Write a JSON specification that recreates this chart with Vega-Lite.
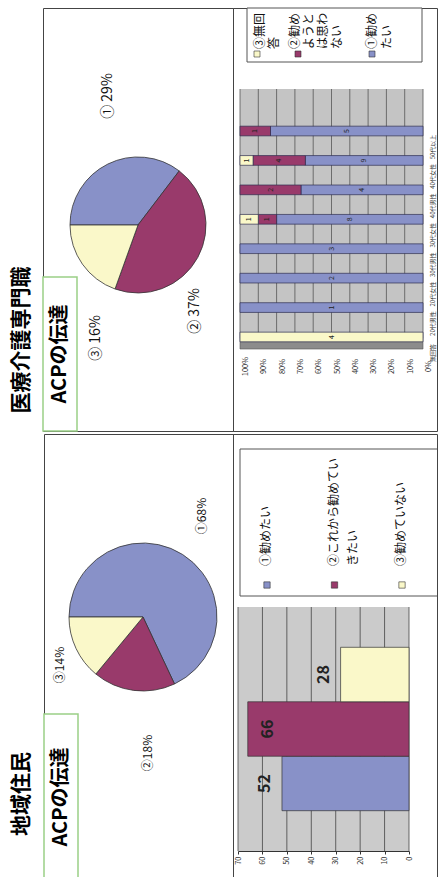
{
  "$schema": "https://vega.github.io/schema/vega-lite/v6.json",
  "padding": {"top": 7, "left": 0, "right": 0, "bottom": 0},
  "spacing": 0,
  "config": {
    "view": {"stroke": null},
    "font": "Noto Sans CJK JP",
    "text": {"font": "Noto Sans CJK JP", "color": "#111"},
    "axis": {"labelFont": "Noto Sans CJK JP"}
  },
  "datasets": {
    "pro_pie": [
      {"cat": "①", "v": 29, "label": "① 29%"},
      {"cat": "②", "v": 37, "label": "② 37%"},
      {"cat": "③", "v": 16, "label": "③ 16%"}
    ],
    "res_pie": [
      {"cat": "①", "v": 68, "label": "①68%"},
      {"cat": "②", "v": 18, "label": "②18%"},
      {"cat": "③", "v": 14, "label": "③14%"}
    ],
    "pro_bar": [
      {"g": "無回答", "cat": "③", "n": 4},
      {"g": "20代男性", "cat": "①", "n": 1},
      {"g": "20代女性", "cat": "①", "n": 2},
      {"g": "30代男性", "cat": "①", "n": 3},
      {"g": "30代女性", "cat": "①", "n": 8},
      {"g": "30代女性", "cat": "②", "n": 1},
      {"g": "30代女性", "cat": "③", "n": 1},
      {"g": "40代男性", "cat": "①", "n": 4},
      {"g": "40代男性", "cat": "②", "n": 2},
      {"g": "40代女性", "cat": "①", "n": 9},
      {"g": "40代女性", "cat": "②", "n": 4},
      {"g": "40代女性", "cat": "③", "n": 1},
      {"g": "50代以上", "cat": "①", "n": 5},
      {"g": "50代以上", "cat": "②", "n": 1}
    ],
    "res_bar": [
      {"cat": "①", "n": 52},
      {"cat": "②", "n": 66},
      {"cat": "③", "n": 28}
    ],
    "pro_legend": [
      {"cat": "③", "lines": "③無回\n答"},
      {"cat": "②", "lines": "②勧め\nようと\nは思わ\nない"},
      {"cat": "①", "lines": "①勧め\nたい"}
    ],
    "res_legend": [
      {"cat": "①", "lines": "①勧めたい"},
      {"cat": "②", "lines": "②これから勧めてい\nきたい"},
      {"cat": "③", "lines": "③勧めていない"}
    ],
    "pct_ticks": [{"t": 0}, {"t": 0.1}, {"t": 0.2}, {"t": 0.3}, {"t": 0.4}, {"t": 0.5}, {"t": 0.6}, {"t": 0.7}, {"t": 0.8}, {"t": 0.9}, {"t": 1}],
    "cnt_ticks": [{"t": 0}, {"t": 10}, {"t": 20}, {"t": 30}, {"t": 40}, {"t": 50}, {"t": 60}, {"t": 70}]
  },
  "vconcat": [
    {
      "spacing": 0,
      "bounds": "flush",
      "hconcat": [
        {
          "width": 43, "height": 423,
          "data": {"values": [{"t": "医療介護専門職"}]},
          "mark": {"type": "text", "angle": 270, "fontSize": 21, "fontWeight": "bold", "align": "center", "baseline": "middle", "yOffset": 120.5, "color": "#000"},
          "encoding": {"text": {"field": "t"}}
        },
        {
          "width": 190, "height": 423,
          "view": {"stroke": "#444", "strokeWidth": 1},
          "layer": [
            {
              "data": {"name": "pro_pie"},
              "mark": {"type": "arc", "outerRadius": 68, "stroke": "#333", "strokeWidth": 0.8, "yOffset": 5.5},
              "encoding": {
                "theta": {"field": "v", "type": "quantitative", "stack": true, "scale": {"range": [4.71238898, 10.99557429]}},
                "color": {"field": "cat", "type": "nominal", "legend": null, "scale": {"domain": ["①", "②", "③"], "range": ["#8891C8", "#993A6B", "#FAF8C9"]}},
                "order": {"field": "cat"}
              }
            },
            {
              "data": {"name": "pro_pie"},
              "transform": [{"filter": "datum.cat === '①'"}],
              "mark": {"type": "text", "angle": 270, "fontSize": 14, "align": "center", "baseline": "middle", "xOffset": -30, "yOffset": -123.5},
              "encoding": {"text": {"field": "label"}}
            },
            {
              "data": {"name": "pro_pie"},
              "transform": [{"filter": "datum.cat === '②'"}],
              "mark": {"type": "text", "angle": 270, "fontSize": 14, "align": "center", "baseline": "middle", "xOffset": 57, "yOffset": 91.5},
              "encoding": {"text": {"field": "label"}}
            },
            {
              "data": {"name": "pro_pie"},
              "transform": [{"filter": "datum.cat === '③'"}],
              "mark": {"type": "text", "angle": 270, "fontSize": 14, "align": "center", "baseline": "middle", "xOffset": -42, "yOffset": 118.5},
              "encoding": {"text": {"field": "label"}}
            },
            {
              "data": {"values": [{"box": "ACPの伝達"}]},
              "encoding": {
                "x": {"field": "box", "type": "nominal", "axis": null, "scale": {"range": [0, 34], "paddingInner": 0, "paddingOuter": 0}},
                "y": {"field": "box", "type": "nominal", "axis": null, "scale": {"range": [269, 423], "paddingInner": 0, "paddingOuter": 0}}
              },
              "layer": [
                {"mark": {"type": "rect", "fill": "#ffffff", "stroke": "#9BCF86", "strokeWidth": 1.5}},
                {"mark": {"type": "text", "angle": 270, "fontSize": 20, "fontWeight": "bold", "align": "center", "baseline": "middle", "color": "#000"}, "encoding": {"text": {"field": "box"}}}
              ]
            }
          ]
        },
        {
          "width": 204, "height": 423,
          "view": {"stroke": "#444", "strokeWidth": 1},
          "resolve": {"scale": {"x": "independent", "y": "independent"}},
          "layer": [
            {
              "data": {"values": [{"b": "legend"}]},
              "mark": {"type": "rect", "fill": "#ffffff", "stroke": "#555", "strokeWidth": 1},
              "encoding": {
                "x": {"field": "b", "type": "nominal", "axis": null, "scale": {"range": [14, 189], "paddingInner": 0, "paddingOuter": 0}},
                "y": {"field": "b", "type": "nominal", "axis": null, "scale": {"range": [0, 54], "paddingInner": 0, "paddingOuter": 0}}
              }
            },
            {
              "data": {"name": "pro_legend"},
              "transform": [{"filter": "datum.cat === '③'"}],
              "layer": [
                {"mark": {"type": "square", "size": 36, "opacity": 1, "stroke": "#333", "strokeWidth": 0.6, "xOffset": -78, "yOffset": -165.5},
                 "encoding": {"color": {"field": "cat", "type": "nominal", "legend": null, "scale": {"domain": ["①", "②", "③"], "range": ["#8891C8", "#993A6B", "#FAF8C9"]}}}},
                {"mark": {"type": "text", "angle": 270, "fontSize": 12, "align": "left", "baseline": "top", "lineBreak": "\n", "lineHeight": 13.5, "xOffset": -80, "yOffset": -170.5},
                 "encoding": {"text": {"field": "lines"}}}
              ]
            },
            {
              "data": {"name": "pro_legend"},
              "transform": [{"filter": "datum.cat === '②'"}],
              "layer": [
                {"mark": {"type": "square", "size": 36, "opacity": 1, "stroke": "#333", "strokeWidth": 0.6, "xOffset": -37, "yOffset": -165.5},
                 "encoding": {"color": {"field": "cat", "type": "nominal", "legend": null, "scale": {"domain": ["①", "②", "③"], "range": ["#8891C8", "#993A6B", "#FAF8C9"]}}}},
                {"mark": {"type": "text", "angle": 270, "fontSize": 12, "align": "left", "baseline": "top", "lineBreak": "\n", "lineHeight": 14, "xOffset": -45, "yOffset": -170.5},
                 "encoding": {"text": {"field": "lines"}}}
              ]
            },
            {
              "data": {"name": "pro_legend"},
              "transform": [{"filter": "datum.cat === '①'"}],
              "layer": [
                {"mark": {"type": "square", "size": 36, "opacity": 1, "stroke": "#333", "strokeWidth": 0.6, "xOffset": 37, "yOffset": -165.5},
                 "encoding": {"color": {"field": "cat", "type": "nominal", "legend": null, "scale": {"domain": ["①", "②", "③"], "range": ["#8891C8", "#993A6B", "#FAF8C9"]}}}},
                {"mark": {"type": "text", "angle": 270, "fontSize": 12, "align": "left", "baseline": "top", "lineBreak": "\n", "lineHeight": 15, "xOffset": 32, "yOffset": -170.5},
                 "encoding": {"text": {"field": "lines"}}}
              ]
            },
            {
              "resolve": {"scale": {"y": "independent"}},
              "layer": [
                {
                  "layer": [
                    {
                      "data": {"values": [{"b": "plot"}]},
                      "mark": {"type": "rect", "fill": "#C4C4C4"},
                      "encoding": {
                        "x": {"datum": 0, "type": "quantitative",
                              "axis": {"orient": "bottom", "offset": -65, "values": [0, 0.1, 0.2, 0.3, 0.4, 0.5, 0.6, 0.7, 0.8, 0.9, 1], "format": ".0%",
                                       "labelAngle": 270, "labelAlign": "center", "labelBaseline": "middle", "labelPadding": 0, "ticks": false, "tickSize": 0,
                                       "domain": false, "grid": false, "title": null, "labelFontSize": 7.5, "labelColor": "#333", "labelOffset": 5.5, "labelOverlap": false}},
                        "x2": {"datum": 1},
                        "y": {"datum": 0.04, "type": "quantitative", "axis": null, "scale": {"domain": [0, 1], "range": [341, 81]}},
                        "y2": {"datum": 1}
                      }
                    },
                    {
                      "data": {"values": [{"b": "floor"}]},
                      "mark": {"type": "rect", "fill": "#8C8C8C", "stroke": "#555", "strokeWidth": 0.6},
                      "encoding": {
                        "x": {"datum": 0, "type": "quantitative",
                              "axis": {"orient": "bottom", "offset": -65, "values": [0, 0.1, 0.2, 0.3, 0.4, 0.5, 0.6, 0.7, 0.8, 0.9, 1], "format": ".0%",
                                       "labelAngle": 270, "labelAlign": "center", "labelBaseline": "middle", "labelPadding": 0, "ticks": false, "tickSize": 0,
                                       "domain": false, "grid": false, "title": null, "labelFontSize": 7.5, "labelColor": "#333", "labelOffset": 5.5, "labelOverlap": false}},
                        "x2": {"datum": 1},
                        "y": {"datum": 0, "type": "quantitative", "axis": null},
                        "y2": {"datum": 0.04}
                      }
                    },
                    {
                      "data": {"name": "pct_ticks"},
                      "mark": {"type": "rule", "color": "#555", "strokeWidth": 0.8},
                      "encoding": {
                        "x": {"field": "t", "type": "quantitative",
                              "axis": {"orient": "bottom", "offset": -65, "values": [0, 0.1, 0.2, 0.3, 0.4, 0.5, 0.6, 0.7, 0.8, 0.9, 1], "format": ".0%",
                                       "labelAngle": 270, "labelAlign": "center", "labelBaseline": "middle", "labelPadding": 0, "ticks": false, "tickSize": 0,
                                       "domain": false, "grid": false, "title": null, "labelFontSize": 7.5, "labelColor": "#333", "labelOffset": 5.5, "labelOverlap": false}},
                        "y": {"datum": 0.04, "type": "quantitative", "axis": null},
                        "y2": {"datum": 1}
                      }
                    }
                  ]
                },
                {
                  "data": {"name": "pro_bar"},
                  "encoding": {
                    "x": {"field": "n", "type": "quantitative", "stack": "normalize",
                          "scale": {"domain": [0, 1], "range": [190, 7]},
                          "axis": {"orient": "bottom", "offset": -65, "values": [0, 0.1, 0.2, 0.3, 0.4, 0.5, 0.6, 0.7, 0.8, 0.9, 1], "format": ".0%",
                                   "labelAngle": 270, "labelAlign": "center", "labelBaseline": "middle", "labelPadding": 0, "ticks": false, "tickSize": 0,
                                   "domain": false, "grid": false, "title": null, "labelFontSize": 7.5, "labelColor": "#333", "labelOffset": 5.5, "labelOverlap": false}},
                    "y": {"field": "g", "type": "nominal",
                          "scale": {"domain": ["無回答", "20代男性", "20代女性", "30代男性", "30代女性", "40代男性", "40代女性", "50代以上"], "range": [343.7, 108.3], "paddingInner": 0, "paddingOuter": 0},
                          "axis": {"orient": "right", "offset": -5, "labelAngle": 270, "labelAlign": "center", "labelBaseline": "middle", "labelPadding": 0, "ticks": false, "tickSize": 0,
                                   "labelOffset": 16, "domain": false, "grid": false, "title": null, "labelFontSize": 6, "labelColor": "#333", "labelOverlap": false, "labelLimit": 0}}
                  },
                  "layer": [
                    {
                      "mark": {"type": "bar", "height": {"band": 0.33}, "stroke": "#2E2E50", "strokeWidth": 0.7},
                      "encoding": {
                        "color": {"field": "cat", "type": "nominal", "legend": null, "scale": {"domain": ["①", "②", "③"], "range": ["#8891C8", "#993A6B", "#FAF8C9"]}},
                        "order": {"field": "cat"}
                      }
                    },
                    {
                      "mark": {"type": "text", "angle": 270, "fontSize": 7, "align": "center", "baseline": "middle", "color": "#222"},
                      "encoding": {
                        "x": {"field": "n", "type": "quantitative", "stack": "normalize", "bandPosition": 0.5},
                        "detail": {"field": "cat"},
                        "order": {"field": "cat"},
                        "text": {"field": "n"}
                      }
                    }
                  ]
                }
              ]
            }
          ]
        }
      ]
    },
    {
      "spacing": 0,
      "bounds": "flush",
      "hconcat": [
        {
          "width": 44, "height": 446,
          "data": {"values": [{"t": "地域住民"}]},
          "mark": {"type": "text", "angle": 270, "fontSize": 21, "fontWeight": "bold", "align": "center", "baseline": "middle", "yOffset": 137, "color": "#000"},
          "encoding": {"text": {"field": "t"}}
        },
        {
          "width": 189, "height": 446,
          "view": {"stroke": "#444", "strokeWidth": 1},
          "layer": [
            {
              "data": {"name": "res_pie"},
              "mark": {"type": "arc", "outerRadius": 74, "stroke": "#333", "strokeWidth": 0.8, "xOffset": 4.5, "yOffset": -40},
              "encoding": {
                "theta": {"field": "v", "type": "quantitative", "stack": true, "scale": {"range": [4.71238898, 10.99557429]}},
                "color": {"field": "cat", "type": "nominal", "legend": null, "scale": {"domain": ["①", "②", "③"], "range": ["#8891C8", "#993A6B", "#FAF8C9"]}},
                "order": {"field": "cat"}
              }
            },
            {
              "data": {"name": "res_pie"},
              "transform": [{"filter": "datum.cat === '①'"}],
              "mark": {"type": "text", "angle": 270, "fontSize": 12, "align": "center", "baseline": "middle", "xOffset": 63.5, "yOffset": -141},
              "encoding": {"text": {"field": "label"}}
            },
            {
              "data": {"name": "res_pie"},
              "transform": [{"filter": "datum.cat === '②'"}],
              "mark": {"type": "text", "angle": 270, "fontSize": 12, "align": "center", "baseline": "middle", "xOffset": 9.5, "yOffset": 96},
              "encoding": {"text": {"field": "label"}}
            },
            {
              "data": {"name": "res_pie"},
              "transform": [{"filter": "datum.cat === '③'"}],
              "mark": {"type": "text", "angle": 270, "fontSize": 12, "align": "center", "baseline": "middle", "xOffset": -78.5, "yOffset": 8},
              "encoding": {"text": {"field": "label"}}
            },
            {
              "data": {"values": [{"box": "ACPの伝達"}]},
              "encoding": {
                "x": {"field": "box", "type": "nominal", "axis": null, "scale": {"range": [0, 34], "paddingInner": 0, "paddingOuter": 0}},
                "y": {"field": "box", "type": "nominal", "axis": null, "scale": {"range": [280, 446], "paddingInner": 0, "paddingOuter": 0}}
              },
              "layer": [
                {"mark": {"type": "rect", "fill": "#ffffff", "stroke": "#9BCF86", "strokeWidth": 1.5}},
                {"mark": {"type": "text", "angle": 270, "fontSize": 20, "fontWeight": "bold", "align": "center", "baseline": "middle", "color": "#000"}, "encoding": {"text": {"field": "box"}}}
              ]
            }
          ]
        },
        {
          "width": 204, "height": 446,
          "view": {"stroke": "#444", "strokeWidth": 1},
          "resolve": {"scale": {"x": "independent", "y": "independent"}},
          "layer": [
            {
              "data": {"values": [{"b": "legend"}]},
              "mark": {"type": "rect", "fill": "#ffffff", "stroke": "#555", "strokeWidth": 1, "clip": true},
              "encoding": {
                "x": {"field": "b", "type": "nominal", "axis": null, "scale": {"range": [7, 215], "paddingInner": 0, "paddingOuter": 0}},
                "y": {"field": "b", "type": "nominal", "axis": null, "scale": {"range": [15, 162], "paddingInner": 0, "paddingOuter": 0}}
              }
            },
            {
              "data": {"name": "res_legend"},
              "encoding": {
                "x": {"field": "cat", "type": "nominal", "axis": null, "scale": {"type": "point", "domain": ["①", "②", "③"], "range": [34, 169], "padding": 0}}
              },
              "layer": [
                {"mark": {"type": "square", "size": 40, "opacity": 1, "stroke": "#333", "strokeWidth": 0.6, "yOffset": -72},
                 "encoding": {"color": {"field": "cat", "type": "nominal", "legend": null, "scale": {"domain": ["①", "②", "③"], "range": ["#8891C8", "#993A6B", "#FAF8C9"]}}}},
                {"mark": {"type": "text", "angle": 270, "fontSize": 12, "align": "left", "baseline": "top", "lineBreak": "\n", "lineHeight": 19, "xOffset": -6, "yOffset": -91},
                 "encoding": {"text": {"field": "lines"}}}
              ]
            },
            {
              "resolve": {"scale": {"y": "independent"}},
              "layer": [
                {
                  "layer": [
                    {
                      "data": {"values": [{"b": "plot"}]},
                      "mark": {"type": "rect", "fill": "#CBCBCB"},
                      "encoding": {
                        "x": {"datum": 0, "type": "quantitative",
                              "axis": {"orient": "bottom", "offset": -29, "values": [0, 10, 20, 30, 40, 50, 60, 70],
                                       "labelAngle": 270, "labelAlign": "right", "labelBaseline": "middle", "labelPadding": 2, "ticks": true, "tickSize": 3, "tickColor": "#333",
                                       "domain": true, "domainColor": "#333", "grid": false, "title": null, "labelFontSize": 7.5, "labelColor": "#333", "labelOverlap": false}},
                        "x2": {"datum": 70},
                        "y": {"datum": 0, "type": "quantitative", "axis": null, "scale": {"domain": [0, 1], "range": [417, 173]}},
                        "y2": {"datum": 1}
                      }
                    },
                    {
                      "data": {"name": "cnt_ticks"},
                      "mark": {"type": "rule", "color": "#444", "strokeWidth": 0.8},
                      "encoding": {
                        "x": {"field": "t", "type": "quantitative",
                              "axis": {"orient": "bottom", "offset": -29, "values": [0, 10, 20, 30, 40, 50, 60, 70],
                                       "labelAngle": 270, "labelAlign": "right", "labelBaseline": "middle", "labelPadding": 2, "ticks": true, "tickSize": 3, "tickColor": "#333",
                                       "domain": true, "domainColor": "#333", "grid": false, "title": null, "labelFontSize": 7.5, "labelColor": "#333", "labelOverlap": false}},
                        "y": {"datum": 0, "type": "quantitative", "axis": null},
                        "y2": {"datum": 1}
                      }
                    }
                  ]
                },
                {
                  "data": {"name": "res_bar"},
                  "encoding": {
                    "x": {"field": "n", "type": "quantitative",
                          "scale": {"domain": [0, 70], "range": [176, 5]},
                          "axis": {"orient": "bottom", "offset": -29, "values": [0, 10, 20, 30, 40, 50, 60, 70],
                                   "labelAngle": 270, "labelAlign": "right", "labelBaseline": "middle", "labelPadding": 2, "ticks": true, "tickSize": 3, "tickColor": "#333",
                                   "domain": true, "domainColor": "#333", "grid": false, "title": null, "labelFontSize": 7.5, "labelColor": "#333", "labelOverlap": false}},
                    "y": {"field": "cat", "type": "nominal", "axis": null,
                          "scale": {"domain": ["①", "②", "③"], "range": [417, 173], "paddingInner": 0, "paddingOuter": 0.74}}
                  },
                  "layer": [
                    {
                      "mark": {"type": "bar", "stroke": "#333", "strokeWidth": 0.7},
                      "encoding": {
                        "color": {"field": "cat", "type": "nominal", "legend": null, "scale": {"domain": ["①", "②", "③"], "range": ["#8891C8", "#993A6B", "#FAF8C9"]}}
                      }
                    },
                    {
                      "transform": [{"filter": "datum.n > 60"}],
                      "mark": {"type": "text", "angle": 270, "fontSize": 16, "fontWeight": "bold", "align": "center", "baseline": "middle", "dy": 20, "color": "#222"},
                      "encoding": {"text": {"field": "n"}}
                    },
                    {
                      "transform": [{"filter": "datum.n <= 60"}],
                      "mark": {"type": "text", "angle": 270, "fontSize": 16, "fontWeight": "bold", "align": "center", "baseline": "middle", "dy": -17, "color": "#222"},
                      "encoding": {"text": {"field": "n"}}
                    }
                  ]
                }
              ]
            }
          ]
        }
      ]
    }
  ]
}
